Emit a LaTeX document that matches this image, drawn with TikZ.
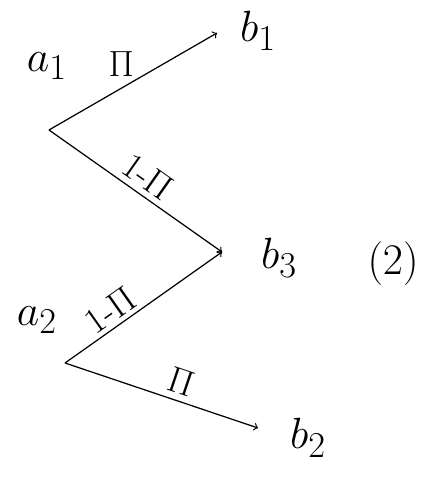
\documentclass[tikz,border=0pt]{standalone}
\usepackage{amsmath}
\usepackage{amssymb}
\usetikzlibrary{arrows}

\begin{document}
\begin{tikzpicture}
\useasboundingbox (0,0) rectangle (8.82,9.68);
%%%%%%%%%%%%%%%%%%%
% The points

\coordinate (a1) at (0.98,7.08);
\coordinate (a2) at (1.30,2.42);
\coordinate (b1) at (4.34,9.02);
\coordinate (b3) at (4.44,4.64);
\coordinate (b2) at (5.16,1.12);

%%%%%%%%%%%%%%%%%%%
% The arrows

\draw [line width=0.7pt, ->] (a1) -- node[pos=0.43, above=3pt] {\huge $\Pi$} (b1);
\draw [line width=0.7pt, ->] (a1) -- node[pos=0.51, above=0pt, sloped] {\huge 1-$\Pi$} (b3);
\draw [line width=0.7pt, ->] (a2) -- node[pos=0.35, above=-1pt, sloped] {\huge 1-$\Pi$} (b3);
\draw [line width=0.7pt, ->] (a2) -- node[pos=0.57, above=0pt, sloped] {\huge $\Pi$} (b2);

%%%%%%%%%%%%%%%%%%%%

\node (a1lab) at (0.94,8.36) {\Huge $a_1$};
\node (a2lab) at (0.74,3.28) {\Huge $a_2$};
\node (b1lab) at (5.16,9.06) {\Huge $b_1$};
\node (b3lab) at (5.58,4.52) {\Huge $b_3$};
\node (b2lab) at (6.16,0.92) {\Huge $b_2$};
\node (mark) at (7.86,4.40) {\Huge $(2)$};

\end{tikzpicture}
\end{document}
